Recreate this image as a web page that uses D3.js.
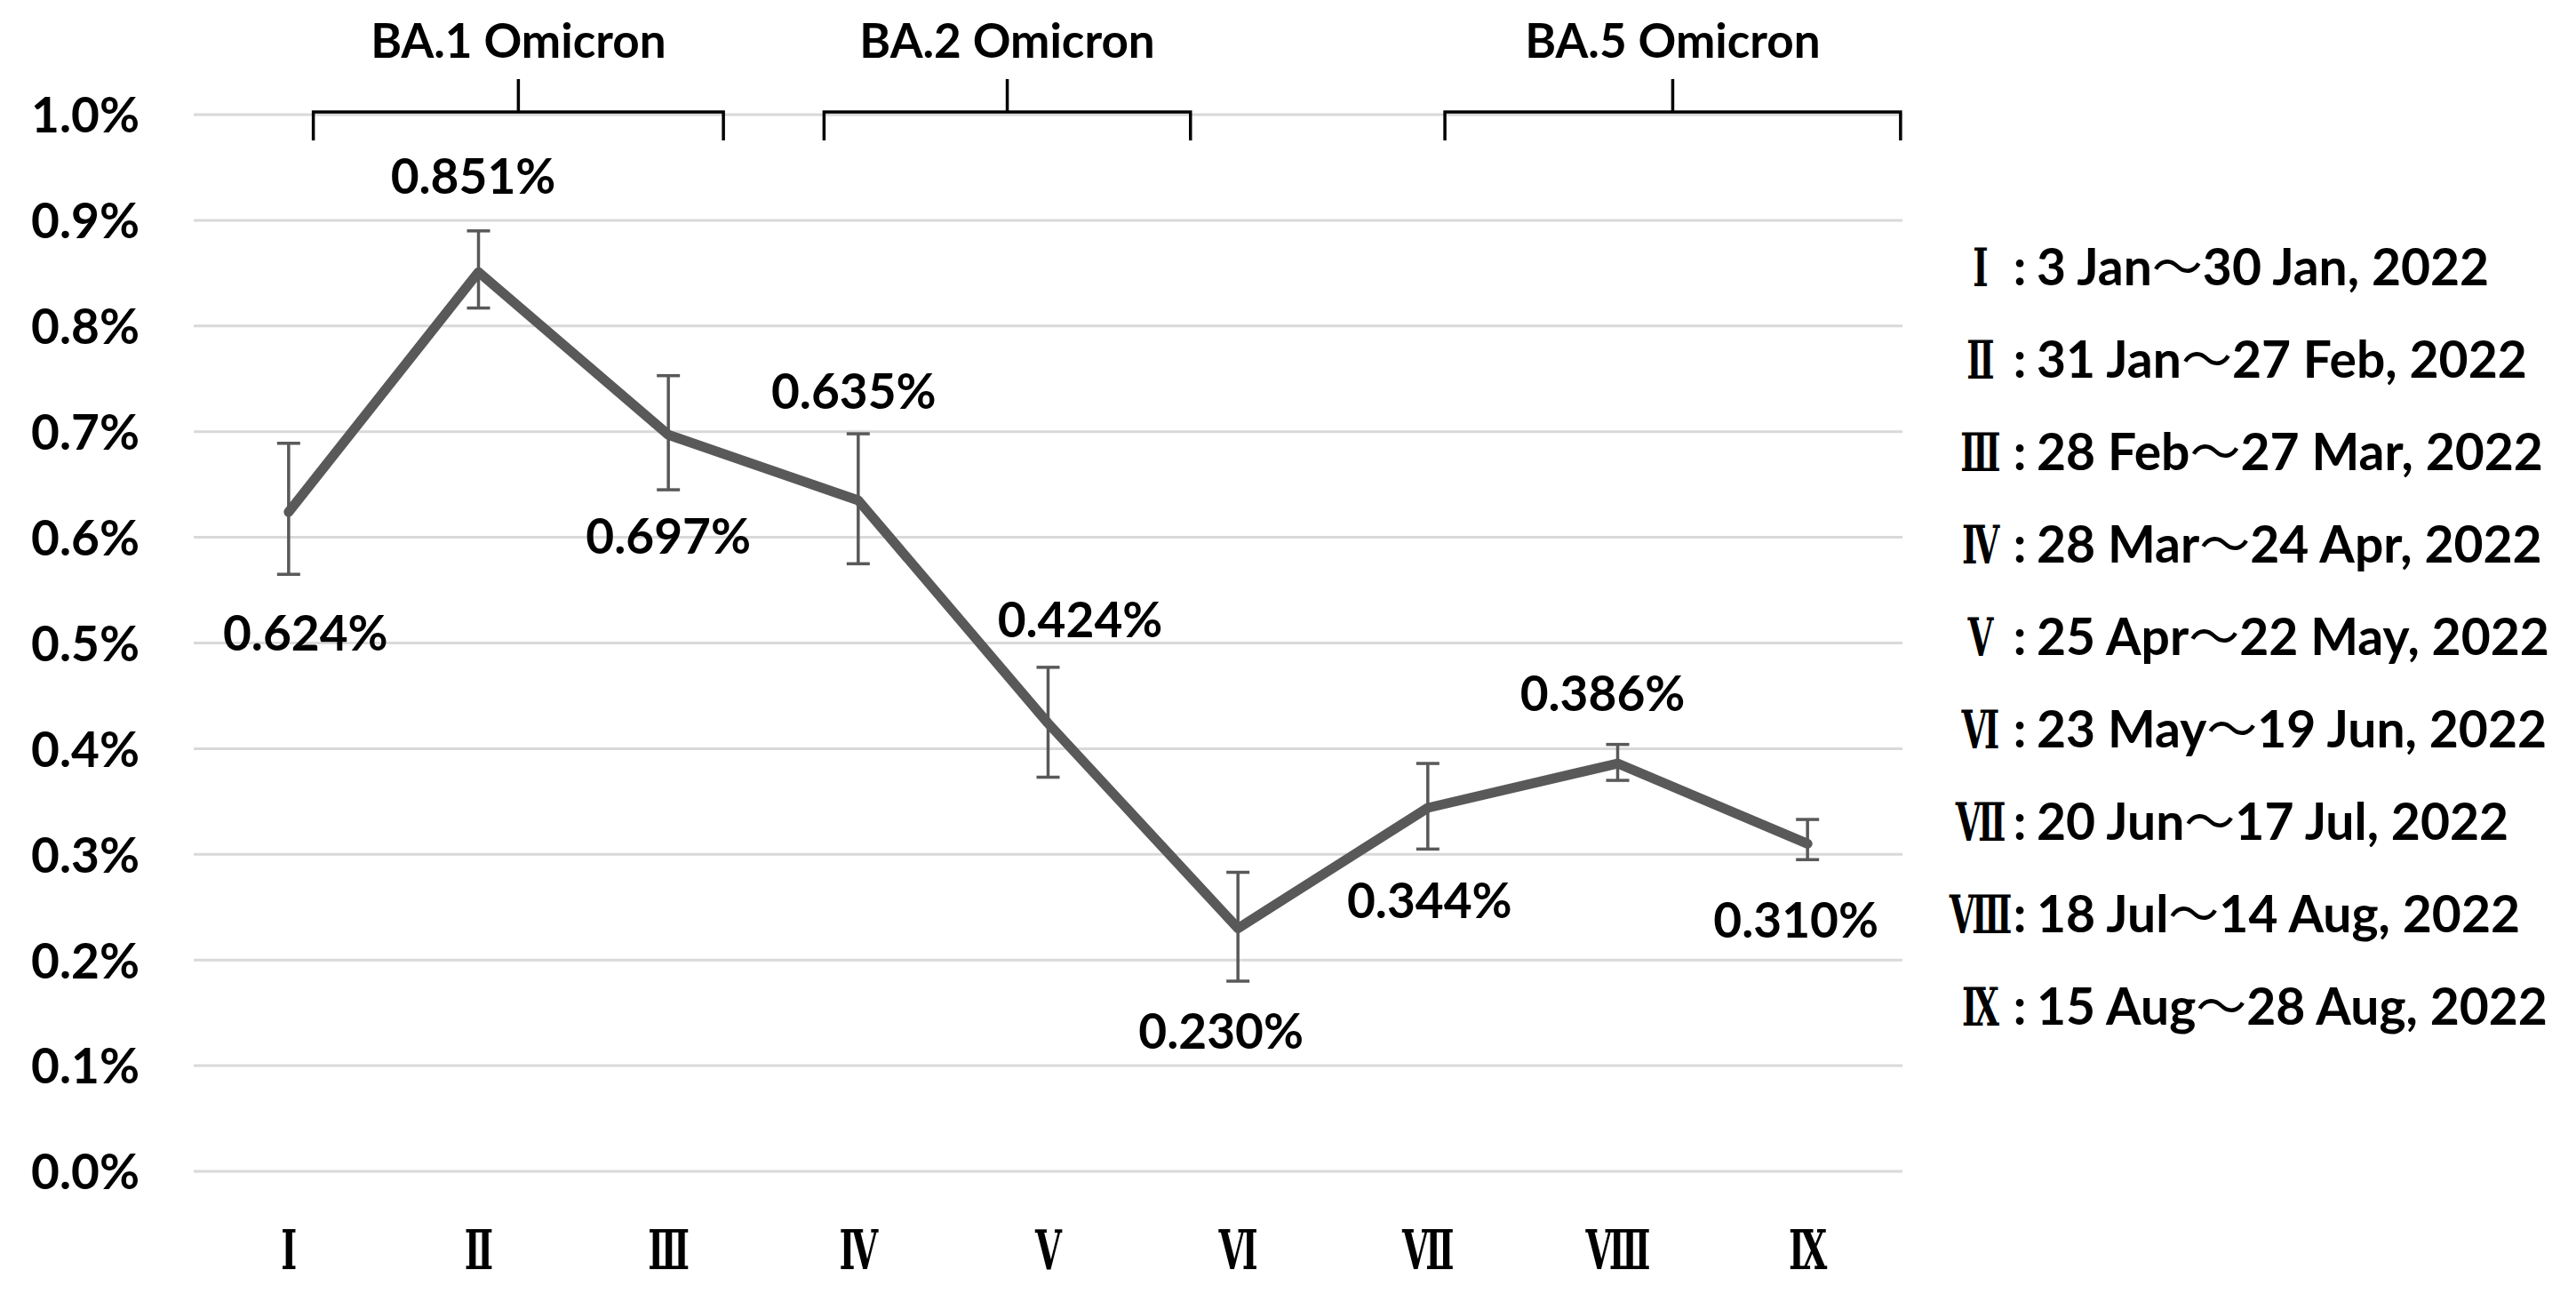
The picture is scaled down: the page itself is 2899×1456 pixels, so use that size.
<!DOCTYPE html>
<html>
<head>
<meta charset="utf-8">
<script src="https://cdn.jsdelivr.net/npm/d3@7"></script>
<style>
  body { margin: 0; background: #fff; }
  text { font-family: Lato, "Noto Sans", sans-serif; font-weight: bold; fill: #000; }
  .roman { font-family: "DejaVu Serif", serif; font-weight: bold; }
  .wave { font-family: "Noto Sans CJK JP", sans-serif; font-weight: normal; }
</style>
</head>
<body>
<svg id="chart" width="2899" height="1456"></svg>
<script>
// data
const periods = ['Ⅰ', 'Ⅱ', 'Ⅲ', 'Ⅳ', 'Ⅴ', 'Ⅵ', 'Ⅶ', 'Ⅷ', 'Ⅸ'];
const rates = [0.624, 0.851, 0.697, 0.635, 0.424, 0.230, 0.344, 0.386, 0.310];
const lower = [0.565, 0.817, 0.645, 0.575, 0.373, 0.180, 0.305, 0.370, 0.295];
const upper = [0.689, 0.890, 0.753, 0.698, 0.477, 0.283, 0.386, 0.404, 0.333];
const yTicks = [0, 0.1, 0.2, 0.3, 0.4, 0.5, 0.6, 0.7, 0.8, 0.9, 1.0];
const periodStart = ['3 Jan', '31 Jan', '28 Feb', '28 Mar', '25 Apr', '23 May', '20 Jun', '18 Jul', '15 Aug'];
const periodEnd = ['30 Jan, 2022', '27 Feb, 2022', '27 Mar, 2022', '24 Apr, 2022', '22 May, 2022',
  '19 Jun, 2022', '17 Jul, 2022', '14 Aug, 2022', '28 Aug, 2022'];
const variants = ['BA.1 Omicron', 'BA.2 Omicron', 'BA.5 Omicron'];
const variantFrom = [0.13, 2.82, 6.09];   // in period index units
const variantTo = [2.29, 4.75, 8.49];

// layout
const plotL = 218, plotR = 2141, plotT = 129, plotB = 1318;
const labelShift = [[19, 136], [-6, -108], [0, 114], [-5, -123], [36, -117], [-19, 116], [2, 104], [-17, -79], [-13, 86]];
const grey = '#595959';

const svg = d3.select('#chart');

const x = d3.scalePoint().domain(periods).range([plotL, plotR]).padding(0.5);
const xi = d3.scaleLinear().domain([0, periods.length - 1])
  .range([x(periods[0]), x(periods[periods.length - 1])]);
const y = d3.scaleLinear().domain([0, 1.0]).range([plotB, plotT]);

// gridlines
svg.append('g')
  .selectAll('line')
  .data(yTicks)
  .join('line')
  .attr('x1', plotL)
  .attr('x2', plotR)
  .attr('y1', (d) => y(d))
  .attr('y2', (d) => y(d))
  .attr('stroke', '#d9d9d9')
  .attr('stroke-width', 3);

// y axis
svg.append('g')
  .attr('transform', `translate(${plotL}, 0)`)
  .call(d3.axisLeft(y).tickValues(yTicks).tickFormat((d) => d.toFixed(1) + '%').tickSize(0).tickPadding(61))
  .call((g) => g.select('.domain').remove())
  .call((g) => g.selectAll('.tick text')
    .attr('font-size', 55)
    .attr('font-family', null)
    .attr('dy', '0.36em'));

// x axis
svg.append('g')
  .attr('transform', `translate(0, ${plotB})`)
  .call(d3.axisBottom(x).tickSize(0).tickPadding(0))
  .call((g) => g.select('.domain').remove())
  .call((g) => g.selectAll('.tick text')
    .attr('class', 'roman')
    .attr('font-family', null)
    .attr('font-size', 62)
    .attr('y', 110)
    .attr('dy', 0)
    .attr('transform', 'scale(0.62,1)'));

// error bars
const idx = d3.range(periods.length);
const capW = 13;
const bars = svg.append('g')
  .attr('stroke', grey)
  .attr('stroke-width', 3.5);
bars.selectAll('.stem')
  .data(idx)
  .join('line')
  .attr('class', 'stem')
  .attr('x1', (i) => x(periods[i]))
  .attr('x2', (i) => x(periods[i]))
  .attr('y1', (i) => y(lower[i]))
  .attr('y2', (i) => y(upper[i]));
bars.selectAll('.capTop')
  .data(idx)
  .join('line')
  .attr('class', 'capTop')
  .attr('x1', (i) => x(periods[i]) - capW)
  .attr('x2', (i) => x(periods[i]) + capW)
  .attr('y1', (i) => y(upper[i]))
  .attr('y2', (i) => y(upper[i]));
bars.selectAll('.capBot')
  .data(idx)
  .join('line')
  .attr('class', 'capBot')
  .attr('x1', (i) => x(periods[i]) - capW)
  .attr('x2', (i) => x(periods[i]) + capW)
  .attr('y1', (i) => y(lower[i]))
  .attr('y2', (i) => y(lower[i]));

// line
svg.append('path')
  .datum(idx)
  .attr('fill', 'none')
  .attr('stroke', grey)
  .attr('stroke-width', 11)
  .attr('stroke-linejoin', 'round')
  .attr('stroke-linecap', 'round')
  .attr('d', d3.line()
    .x((i) => x(periods[i]))
    .y((i) => y(rates[i])));

// data labels
svg.append('g')
  .selectAll('text')
  .data(idx)
  .join('text')
  .attr('x', (i) => x(periods[i]) + labelShift[i][0])
  .attr('y', (i) => y(rates[i]) + labelShift[i][1])
  .attr('dy', '0.36em')
  .attr('text-anchor', 'middle')
  .attr('font-size', 55)
  .text((i) => rates[i].toFixed(3) + '%');

// variant brackets
const vIdx = d3.range(variants.length);
const brTop = 126, brEnd = 158, brTick = 89;
const brackets = svg.append('g')
  .attr('fill', 'none')
  .attr('stroke', '#000')
  .attr('stroke-width', 3.5);
brackets.selectAll('path')
  .data(vIdx)
  .join('path')
  .attr('d', (i) => {
    const a = xi(variantFrom[i]);
    const b = xi(variantTo[i]);
    const m = (a + b) / 2;
    return `M${a},${brEnd}V${brTop}H${b}V${brEnd}M${m},${brTop}V${brTick}`;
  });
svg.append('g')
  .selectAll('text')
  .data(vIdx)
  .join('text')
  .attr('x', (i) => (xi(variantFrom[i]) + xi(variantTo[i])) / 2)
  .attr('y', 46)
  .attr('dy', '0.36em')
  .attr('text-anchor', 'middle')
  .attr('font-size', 53)
  .text((i) => variants[i]);

// period legend on the right
const legend = svg.append('g')
  .selectAll('g')
  .data(idx)
  .join('g')
  .attr('transform', (i) => `translate(0, ${300 + i * 104})`);
legend.append('text')
  .attr('class', 'roman')
  .attr('text-anchor', 'middle')
  .attr('dy', '0.36em')
  .attr('font-size', 60)
  .attr('transform', 'translate(2229,0) scale(0.62,1)')
  .text((i) => periods[i]);
legend.append('text')
  .attr('x', 2273)
  .attr('dy', '0.36em')
  .attr('text-anchor', 'middle')
  .attr('font-size', 57)
  .text(':');
const dates = legend.append('text')
  .attr('x', 2292)
  .attr('dy', '0.36em')
  .attr('font-size', 57);
dates.append('tspan').text((i) => periodStart[i]);
dates.append('tspan').attr('class', 'wave').text('～');
dates.append('tspan').text((i) => periodEnd[i]);
</script>
</body>
</html>
